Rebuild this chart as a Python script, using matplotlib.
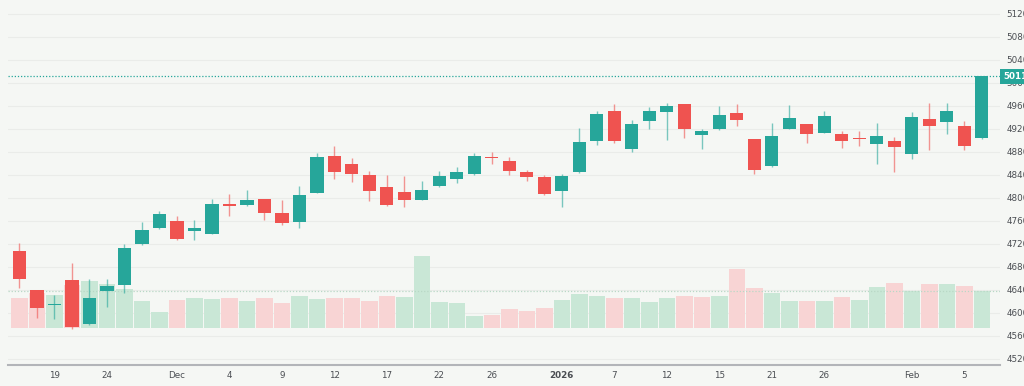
"""Daily candlestick chart (Nov 2025 - Feb 2026) with volume overlay, TradingView style."""
import numpy as np
import pandas as pd
import matplotlib
matplotlib.use("Agg")
import matplotlib.pyplot as plt  # noqa: E402
from matplotlib.transforms import blended_transform_factory  # noqa: E402

HOLIDAYS = ["2025-11-27", "2025-12-25", "2026-01-01", "2026-01-19"]
DATES = pd.bdate_range("2025-11-17", "2026-02-06").drop(pd.to_datetime(HOLIDAYS))

OPEN = [4707.8, 4638.8, 4613.0, 4656.7, 4580.2, 4637.0, 4648.0, 4719.3, 4747.1,
        4758.3, 4741.9, 4737.4, 4788.4, 4787.8, 4797.0, 4772.2, 4757.0, 4808.0,
        4871.8, 4859.1, 4838.3, 4817.9, 4810.4, 4796.5, 4820.2, 4831.8, 4841.7,
        4871.0, 4863.7, 4843.5, 4836.5, 4811.0, 4844.0, 4897.9, 4951.3, 4884.5,
        4933.2, 4948.9, 4962.3, 4908.3, 4919.3, 4947.1, 4901.4, 4854.4, 4920.0,
        4927.0, 4913.0, 4909.6, 4903.0, 4893.2, 4898.4, 4876.5, 4936.2, 4931.5,
        4925.2, 4903.1]
HIGH = [4721.0, 4639.5, 4630.0, 4685.8, 4657.9, 4659.0, 4718.3, 4757.0, 4775.7,
        4768.0, 4760.5, 4797.0, 4805.7, 4813.9, 4798.0, 4796.5, 4819.7, 4877.6,
        4889.2, 4868.9, 4845.7, 4838.8, 4837.0, 4828.9, 4845.7, 4852.7, 4877.6,
        4878.8, 4870.6, 4847.5, 4838.8, 4840.5, 4921.7, 4950.6, 4962.3, 4935.6,
        4957.6, 4963.5, 4963.0, 4918.8, 4958.8, 4962.3, 4902.0, 4929.2, 4960.5,
        4928.0, 4950.1, 4915.3, 4915.3, 4929.2, 4904.9, 4948.3, 4965.2, 4965.2,
        4933.9, 5011.0]
LOW = [4642.8, 4590.6, 4589.0, 4572.0, 4577.4, 4609.8, 4633.6, 4718.0, 4746.0,
       4726.3, 4725.7, 4736.0, 4768.7, 4786.0, 4760.5, 4752.4, 4746.1, 4807.0,
       4831.8, 4827.8, 4794.1, 4785.4, 4783.7, 4795.0, 4818.4, 4824.9, 4838.3,
       4858.4, 4838.3, 4828.9, 4804.5, 4783.7, 4843.0, 4891.0, 4895.0, 4878.8,
       4919.3, 4899.6, 4904.3, 4884.0, 4918.0, 4924.0, 4841.0, 4853.0, 4919.0,
       4895.6, 4912.0, 4886.3, 4889.2, 4858.4, 4844.5, 4866.6, 4882.3, 4910.6,
       4882.3, 4902.0]
CLOSE = [4658.5, 4608.7, 4615.0, 4575.0, 4625.4, 4645.8, 4711.8, 4743.1, 4771.5,
         4728.0, 4747.8, 4788.4, 4784.9, 4795.3, 4773.2, 4754.8, 4805.2, 4870.6,
         4845.2, 4840.5, 4811.5, 4787.8, 4794.8, 4813.2, 4837.0, 4845.2, 4873.0,
         4869.0, 4845.7, 4835.8, 4805.7, 4837.6, 4897.4, 4946.1, 4898.4, 4927.0,
         4950.6, 4960.0, 4918.3, 4914.8, 4944.3, 4935.6, 4848.7, 4907.8, 4938.4,
         4909.6, 4941.4, 4899.1, 4902.4, 4907.1, 4888.7, 4940.2, 4924.0, 4950.6,
         4890.4, 5011.0]
VOLUME = [2.97, 3.53, 3.30, 4.27, 4.73, 4.40, 3.87, 2.73, 1.63, 2.83, 3.03, 2.93,
          2.97, 2.73, 3.03, 2.53, 3.23, 2.90, 2.97, 3.00, 2.73, 3.20, 3.07, 7.20,
          2.60, 2.50, 1.20, 1.33, 1.90, 1.67, 2.00, 2.77, 3.40, 3.20, 3.00, 3.00,
          2.63, 3.00, 3.20, 3.13, 3.20, 5.87, 4.00, 3.53, 2.73, 2.73, 2.73, 3.13,
          2.77, 4.07, 4.47, 3.73, 4.40, 4.40, 4.20, 3.73]

TICK_DATES = ["2025-11-19", "2025-11-24", "2025-12-01", "2025-12-04", "2025-12-09",
              "2025-12-12", "2025-12-17", "2025-12-22", "2025-12-26", "2026-01-02",
              "2026-01-07", "2026-01-12", "2026-01-15", "2026-01-21", "2026-01-26",
              "2026-02-02", "2026-02-05"]
TICK_LABELS = ["19", "24", "Dec", "4", "9", "12", "17", "22", "26", "2026",
               "7", "12", "15", "21", "26", "Feb", "5"]
PRICE_TICKS = np.arange(4520, 5121, 40)

BG = "#f5f7f4"
UP, DOWN = "#26a69a", "#ef5350"
VOL_UP, VOL_DOWN = "#c9e7d6", "#f8d4d4"
TXT = "#4a4d52"

o, h, l, c = (np.array(v, dtype=float) for v in (OPEN, HIGH, LOW, CLOSE))
x = np.arange(len(DATES))
up = c >= o
prev_close = np.r_[o[0], c[:-1]]
vol_up = c >= prev_close

fig = plt.figure(figsize=(10.24, 3.86), dpi=100, facecolor=BG)
rect = [8 / 1024, 21 / 386, 992 / 1024, 365 / 386]
ax = fig.add_axes(rect)
axv = fig.add_axes(rect, sharex=ax)
axc = fig.add_axes(rect, sharex=ax, sharey=ax)
ax.set_zorder(0); axv.set_zorder(1); axc.set_zorder(2)
ax.set_facecolor(BG)
for a in (axv, axc):
    a.patch.set_visible(False)
    a.axis("off")

# volume
axv.bar(x, VOLUME, width=0.94, color=np.where(vol_up, VOL_UP, VOL_DOWN), linewidth=0)
axv.axhline(VOLUME[-1], color="#b9d8c6", ls=(0, (1, 1.5)), lw=0.9)
axv.set_ylim(-3.7, 32.8)

# candles
cols = np.where(up, UP, DOWN)
axc.vlines(x, l, h, colors=cols, lw=1.0, alpha=0.6)
body = np.maximum(np.abs(c - o), 1.6)
axc.bar(x, body, bottom=np.minimum(o, c), width=0.76, color=cols, linewidth=0)

# last price line + label
axc.axhline(c[-1], color=UP, ls=(0, (1, 1.5)), lw=0.9)
trans = blended_transform_factory(axc.transAxes, axc.transData)
axc.text(1.003, c[-1], f"{c[-1]:.0f}", transform=trans, ha="left", va="center",
         color="white", fontsize=6.3, fontweight="bold", clip_on=False,
         bbox=dict(boxstyle="square,pad=0.35", fc=UP, ec="none"))

ax.set_xlim(-0.65, 56.04)
ax.set_ylim(4508.7, 5143.5)
ax.set_yticks(PRICE_TICKS)
ax.yaxis.grid(True, color="#eaece9", lw=0.8)
ax.set_axisbelow(True)
ax.tick_params(axis="y", left=False, right=False, labelleft=False, labelright=True,
               length=0, pad=4.5, labelsize=6.3, labelcolor=TXT)

pos = [DATES.get_loc(pd.Timestamp(d)) for d in TICK_DATES]
ax.set_xticks(pos, TICK_LABELS)
ax.tick_params(axis="x", length=0, pad=4, labelsize=6.3, labelcolor=TXT)
for t in ax.get_xticklabels():
    if t.get_text() == "2026":
        t.set_fontweight("bold")

for s in ("top", "left", "right"):
    ax.spines[s].set_visible(False)
ax.spines["bottom"].set_color("#b3b5b9")
ax.spines["bottom"].set_linewidth(1.5)

fig.savefig("out.png", dpi=100, facecolor=BG)
